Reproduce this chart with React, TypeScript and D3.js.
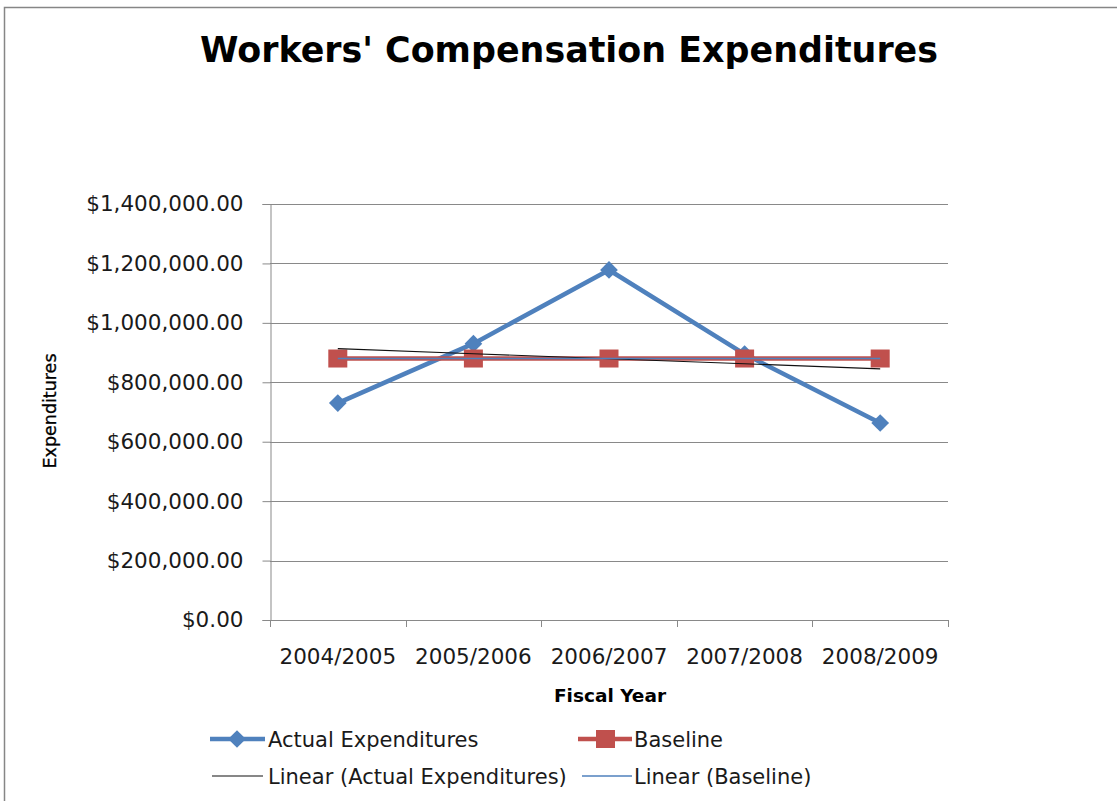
import * as React from "react";
import * as d3 from "d3";

const categories = ["2004/2005", "2005/2006", "2006/2007", "2007/2008", "2008/2009"];
const actualExpenditures = [730000, 930000, 1178000, 895000, 663000];
const baseline = [880000, 880000, 880000, 880000, 880000];
const yTicks = [0, 200000, 400000, 600000, 800000, 1000000, 1200000, 1400000];

const BLUE = "#4F81BD";
const RED = "#C0504D";
const GRID = "#898989";
const FONT = "'DejaVu Sans', sans-serif";

// least squares fit over category index, like the Excel linear trendline
function linearFit(values: number[]) {
  const xs = values.map((_, i) => i);
  const mx = d3.mean(xs) as number;
  const my = d3.mean(values) as number;
  const slope = d3.sum(xs, (x, i) => (x - mx) * (values[i] - my)) / d3.sum(xs, x => (x - mx) * (x - mx));
  return xs.map(x => my + slope * (x - mx));
}

export default function App() {
  const ref = React.useRef<SVGSVGElement>(null);

  React.useEffect(() => {
    const svg = d3.select(ref.current);
    svg.selectAll("*").remove();

    const plot = {left: 270, right: 948, top: 204, bottom: 620};

    const x = d3.scaleBand().domain(categories).range([plot.left, plot.right]);
    const cx = (c: string) => (x(c) as number) + x.bandwidth() / 2;
    const y = d3.scaleLinear().domain([0, 1400000]).range([plot.bottom, plot.top]);

    // outer chart border
    svg.append("rect")
      .attr("x", 4.5).attr("y", 7.5)
      .attr("width", 1130).attr("height", 820)
      .attr("fill", "white")
      .attr("stroke", "#868686")
      .attr("stroke-width", 1.5);

    // title
    svg.append("text")
      .attr("x", 569).attr("y", 62)
      .attr("text-anchor", "middle")
      .attr("font-family", FONT)
      .attr("font-weight", "bold")
      .attr("font-size", 36)
      .attr("textLength", 738)
      .attr("lengthAdjust", "spacingAndGlyphs")
      .text("Workers' Compensation Expenditures");

    // gridlines
    svg.append("g").selectAll("line")
      .data(yTicks.filter(t => t > 0)).enter()
      .append("line")
      .attr("x1", plot.left).attr("x2", plot.right)
      .attr("y1", d => Math.round(y(d)) + 0.5).attr("y2", d => Math.round(y(d)) + 0.5)
      .attr("stroke", GRID).attr("stroke-width", 1);

    // y axis
    const yAxis = svg.append("g")
      .attr("transform", `translate(${plot.left + 0.5},0)`)
      .call(d3.axisLeft(y).tickValues(yTicks).tickSize(8).tickPadding(19).tickFormat(d3.format("$,.2f")));
    yAxis.select(".domain").attr("stroke", GRID);
    yAxis.selectAll(".tick line").attr("stroke", GRID);
    yAxis.selectAll(".tick text")
      .attr("font-family", FONT).attr("font-size", 21.5).attr("fill", "#1a1a1a");

    // x axis: line, ticks on category boundaries, labels centred
    const xAxis = svg.append("g");
    xAxis.append("line")
      .attr("x1", plot.left).attr("x2", plot.right)
      .attr("y1", plot.bottom + 0.5).attr("y2", plot.bottom + 0.5)
      .attr("stroke", GRID);
    const bounds = categories.map(c => x(c) as number).concat([plot.right]);
    xAxis.selectAll(".xtick").data(bounds).enter()
      .append("line")
      .attr("x1", d => Math.round(d) + 0.5).attr("x2", d => Math.round(d) + 0.5)
      .attr("y1", plot.bottom).attr("y2", plot.bottom + 7)
      .attr("stroke", GRID);
    xAxis.selectAll(".xlabel").data(categories).enter()
      .append("text")
      .attr("x", d => cx(d)).attr("y", 664)
      .attr("text-anchor", "middle")
      .attr("font-family", FONT).attr("font-size", 21.5).attr("fill", "#1a1a1a")
      .text(d => d);

    // axis titles
    svg.append("text")
      .attr("x", 610).attr("y", 702)
      .attr("text-anchor", "middle")
      .attr("font-family", FONT).attr("font-weight", "bold").attr("font-size", 18.5)
      .text("Fiscal Year");
    svg.append("text")
      .attr("transform", "translate(56,411) rotate(-90)")
      .attr("text-anchor", "middle")
      .attr("font-family", FONT).attr("font-size", 17.5)
      .attr("stroke", "black").attr("stroke-width", 0.3)
      .text("Expenditures");

    const line = d3.line<number>()
      .x((_, i) => cx(categories[i]))
      .y(d => y(d));

    const diamond = d3.symbol().type(d3.symbolDiamond2).size(200);

    // actual expenditures
    svg.append("path")
      .attr("d", line(actualExpenditures))
      .attr("fill", "none").attr("stroke", BLUE).attr("stroke-width", 4.5)
      .attr("stroke-linejoin", "round");
    svg.append("g").selectAll("path")
      .data(actualExpenditures).enter()
      .append("path")
      .attr("d", diamond as any)
      .attr("transform", (d, i) => `translate(${cx(categories[i])},${y(d)})`)
      .attr("fill", BLUE);

    // baseline
    svg.append("path")
      .attr("d", line(baseline))
      .attr("fill", "none").attr("stroke", RED).attr("stroke-width", 4.5);
    svg.append("g").selectAll("rect")
      .data(baseline).enter()
      .append("rect")
      .attr("x", (d, i) => cx(categories[i]) - 9.5)
      .attr("y", d => y(d) - 9)
      .attr("width", 19).attr("height", 18)
      .attr("fill", RED);

    // trendlines
    svg.append("path")
      .attr("d", line(linearFit(actualExpenditures)))
      .attr("fill", "none").attr("stroke", "#111").attr("stroke-width", 1.2);
    svg.append("path")
      .attr("d", line(linearFit(baseline)))
      .attr("fill", "none").attr("stroke", BLUE).attr("stroke-width", 1.5);

    // legend
    const legend = svg.append("g").attr("font-family", FONT).attr("font-size", 21).attr("fill", "#1a1a1a");
    const row1 = 739, row2 = 776;

    legend.append("line").attr("x1", 210).attr("x2", 265).attr("y1", row1).attr("y2", row1)
      .attr("stroke", BLUE).attr("stroke-width", 4.5);
    legend.append("path").attr("d", diamond as any)
      .attr("transform", `translate(237,${row1})`).attr("fill", BLUE);
    legend.append("text").attr("x", 268).attr("y", row1).attr("dy", "0.36em")
      .text("Actual Expenditures");

    legend.append("line").attr("x1", 578).attr("x2", 632).attr("y1", row1).attr("y2", row1)
      .attr("stroke", RED).attr("stroke-width", 4.5);
    legend.append("rect").attr("x", 596).attr("y", row1 - 9).attr("width", 19).attr("height", 18)
      .attr("fill", RED);
    legend.append("text").attr("x", 634).attr("y", row1).attr("dy", "0.36em")
      .text("Baseline");

    legend.append("line").attr("x1", 212).attr("x2", 263).attr("y1", row2).attr("y2", row2)
      .attr("stroke", "#111").attr("stroke-width", 1.2);
    legend.append("text").attr("x", 268).attr("y", row2).attr("dy", "0.36em")
      .text("Linear (Actual Expenditures)");

    legend.append("line").attr("x1", 582).attr("x2", 632).attr("y1", row2).attr("y2", row2)
      .attr("stroke", BLUE).attr("stroke-width", 1.5);
    legend.append("text").attr("x", 634).attr("y", row2).attr("dy", "0.36em")
      .text("Linear (Baseline)");
  }, []);

  return <svg ref={ref} width={1117} height={801}
              style={{position: "absolute", left: 0, top: 0, background: "white"}}/>;
}
